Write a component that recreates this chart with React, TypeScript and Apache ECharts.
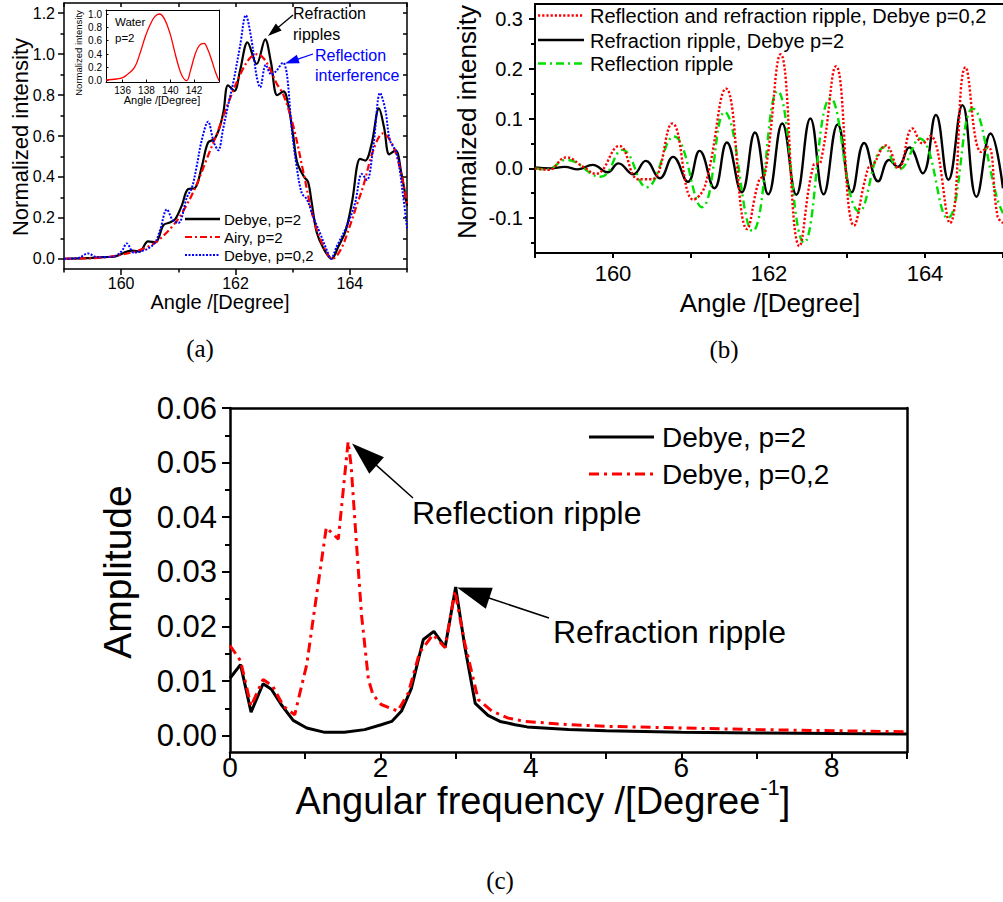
import { useEffect, useRef } from "react";
import * as echarts from "echarts";

const SANS = "'Liberation Sans', Arial, Helvetica, sans-serif";
const SERIF = "'Liberation Serif', 'Times New Roman', serif";

// ---------------- (a) Normalized intensity vs angle ----------------
const aDebyeP2: [number, number][] = [
  [159.0, 0.0], [159.4, 0.003], [159.7, 0.008], [159.9, 0.012], [160.1, 0.035], [160.2, 0.04],
  [160.32, 0.035], [160.47, 0.085], [160.6, 0.08], [160.74, 0.165], [160.86, 0.178], [160.95, 0.195],
  [161.06, 0.26], [161.17, 0.34], [161.29, 0.345], [161.41, 0.45], [161.52, 0.568], [161.63, 0.585],
  [161.72, 0.64], [161.79, 0.72], [161.87, 0.848], [161.98, 0.82], [162.08, 0.92], [162.21, 1.058],
  [162.37, 0.952], [162.52, 1.072], [162.62, 0.96], [162.73, 0.8], [162.84, 0.818], [162.93, 0.74],
  [163.01, 0.6], [163.08, 0.47], [163.2, 0.4], [163.27, 0.375], [163.33, 0.28], [163.42, 0.13],
  [163.54, 0.05], [163.68, 0.0], [163.8, 0.06], [163.93, 0.14], [164.04, 0.28], [164.18, 0.488],
  [164.27, 0.48], [164.38, 0.56], [164.51, 0.735], [164.6, 0.64], [164.69, 0.51], [164.8, 0.53],
  [164.9, 0.42], [165.0, 0.26],
];
const aAiryP2: [number, number][] = [
  [159.0, 0.0], [159.5, 0.003], [159.8, 0.01], [160.0, 0.02], [160.3, 0.04], [160.6, 0.08],
  [160.9, 0.16], [161.1, 0.24], [161.3, 0.35], [161.5, 0.49], [161.7, 0.63], [161.9, 0.78],
  [162.1, 0.91], [162.25, 0.98], [162.38, 1.0], [162.49, 0.98], [162.6, 0.93], [162.72, 0.857],
  [162.84, 0.8], [163.01, 0.65], [163.19, 0.42], [163.36, 0.2], [163.54, 0.06], [163.7, 0.0],
  [163.85, 0.05], [164.0, 0.16], [164.12, 0.26], [164.24, 0.36], [164.41, 0.53], [164.58, 0.613],
  [164.76, 0.55], [164.91, 0.4], [165.0, 0.27],
];
const aDebyeP02: [number, number][] = [
  [159.0, 0.0], [159.25, 0.004], [159.42, 0.026], [159.58, 0.008], [159.85, 0.01], [160.0, 0.034],
  [160.1, 0.075], [160.22, 0.03], [160.33, 0.035], [160.47, 0.05], [160.59, 0.078], [160.68, 0.14],
  [160.8, 0.241], [160.9, 0.19], [161.0, 0.175], [161.15, 0.3], [161.24, 0.35], [161.32, 0.45],
  [161.41, 0.58], [161.52, 0.67], [161.62, 0.57], [161.7, 0.53], [161.78, 0.63], [161.87, 0.75],
  [161.96, 0.86], [162.08, 1.04], [162.18, 1.19], [162.28, 1.07], [162.37, 0.89], [162.43, 0.838],
  [162.53, 0.947], [162.63, 0.9], [162.72, 0.92], [162.83, 0.958], [162.9, 0.9], [162.98, 0.645],
  [163.07, 0.45], [163.16, 0.32], [163.25, 0.29], [163.36, 0.205], [163.48, 0.124], [163.6, 0.04],
  [163.67, 0.0], [163.77, 0.06], [163.94, 0.156], [164.09, 0.27], [164.21, 0.414], [164.3, 0.385],
  [164.41, 0.548], [164.53, 0.81], [164.62, 0.73], [164.7, 0.58], [164.82, 0.515], [164.94, 0.29],
  [165.0, 0.15],
];
// inset: water, p=2
const insetWater: [number, number][] = [
  [134.6, 0.01], [135.5, 0.025], [136.0, 0.045], [136.34, 0.085], [137.0, 0.2], [137.46, 0.41],
  [137.9, 0.66], [138.3, 0.835], [138.7, 0.96], [139.1, 1.0], [139.5, 0.93], [139.98, 0.71],
  [140.35, 0.45], [140.67, 0.235], [141.0, 0.07], [141.38, 0.0], [141.7, 0.15], [142.08, 0.39],
  [142.45, 0.53], [142.84, 0.56], [143.15, 0.47], [143.48, 0.31], [143.8, 0.13], [144.1, 0.0],
];

// ---------------- (b) ripples ----------------
const bReflRefr: [number, number][] = [
  [159.0, 0.0], [159.17, -0.003], [159.4, 0.022], [159.62, 0.003], [159.78, -0.011], [160.08, 0.045],
  [160.33, -0.022], [160.5, -0.022], [160.76, 0.09], [161.03, -0.063], [161.18, -0.035], [161.45, 0.16],
  [161.72, -0.122], [161.87, -0.025], [161.95, -0.01], [162.15, 0.229], [162.39, -0.156], [162.57, 0.006],
  [162.66, 0.012], [162.86, 0.205], [163.09, -0.115], [163.27, 0.0], [163.33, 0.006], [163.5, 0.046],
  [163.66, 0.0], [163.84, 0.08], [163.97, 0.05], [164.07, 0.065], [164.32, -0.11], [164.52, 0.203],
  [164.72, 0.033], [164.81, 0.043], [164.93, -0.096], [165.0, -0.11],
];
const bRefr: [number, number][] = [
  [159.0, 0.002], [159.2, 0.0], [159.38, 0.003], [159.55, -0.002], [159.74, 0.007], [159.93, -0.008],
  [160.07, 0.01], [160.26, -0.012], [160.42, 0.015], [160.6, -0.02], [160.77, 0.023], [160.96, -0.027],
  [161.11, 0.035], [161.3, -0.04], [161.46, 0.052], [161.65, -0.048], [161.82, 0.072], [161.99, -0.052],
  [162.17, 0.09], [162.35, -0.053], [162.53, 0.1], [162.7, -0.052], [162.88, 0.088], [163.06, -0.048],
  [163.22, 0.051], [163.4, -0.026], [163.54, 0.017], [163.65, 0.003], [163.8, 0.042], [163.97, -0.01],
  [164.14, 0.107], [164.3, -0.023], [164.48, 0.127], [164.66, -0.057], [164.84, 0.07], [165.0, -0.04],
];
const bRefl: [number, number][] = [
  [159.0, 0.0], [159.15, -0.002], [159.4, 0.017], [159.84, -0.017], [160.12, 0.037], [160.43, -0.038],
  [160.78, 0.064], [161.14, -0.078], [161.43, 0.113], [161.79, -0.126], [162.11, 0.155], [162.45, -0.149],
  [162.79, 0.141], [163.16, -0.087], [163.48, 0.043], [163.67, -0.002], [163.93, 0.06], [164.29, -0.1],
  [164.61, 0.12], [164.93, -0.063], [165.0, -0.09],
];

// ---------------- (c) amplitude spectrum ----------------
const cDebyeP2: [number, number][] = [
  [0.0, 0.0105], [0.14, 0.013], [0.28, 0.0043], [0.44, 0.0095], [0.55, 0.0085], [0.68, 0.0057],
  [0.84, 0.0028], [1.02, 0.0014], [1.26, 0.0006], [1.52, 0.0006], [1.79, 0.0011], [2.01, 0.002],
  [2.15, 0.0026], [2.28, 0.0045], [2.41, 0.0086], [2.57, 0.0176], [2.71, 0.0191], [2.86, 0.0162],
  [3.0, 0.0272], [3.12, 0.0164], [3.26, 0.0059], [3.43, 0.0037], [3.59, 0.0026], [3.79, 0.002],
  [3.95, 0.0016], [4.5, 0.0011], [5.0, 0.0009], [6.0, 0.0006], [7.0, 0.0005], [8.0, 0.0004], [9.0, 0.0003],
];
const cDebyeP02: [number, number][] = [
  [0.0, 0.0165], [0.14, 0.0137], [0.28, 0.0054], [0.44, 0.0103], [0.57, 0.009], [0.71, 0.0054],
  [0.86, 0.0038], [1.02, 0.013], [1.13, 0.0237], [1.28, 0.0381], [1.44, 0.036], [1.57, 0.0538],
  [1.61, 0.0495], [1.68, 0.0354], [1.75, 0.0219], [1.84, 0.0103], [1.9, 0.0075], [2.01, 0.0057],
  [2.23, 0.0045], [2.37, 0.0078], [2.52, 0.0152], [2.7, 0.0185], [2.86, 0.0161], [2.99, 0.0265],
  [3.12, 0.017], [3.3, 0.0066], [3.48, 0.0045], [3.7, 0.0032], [3.92, 0.0026], [4.5, 0.002],
  [5.0, 0.0017], [6.0, 0.0014], [7.0, 0.0011], [8.0, 0.0009], [9.0, 0.0007],
];

// ---------------- tick values ----------------
const aXMajor = [160, 162, 164];
const aXMinor = [159, 161, 163, 165];
const aXAll = [159, 160, 161, 162, 163, 164, 165];
const aYMajor = [0, 0.2, 0.4, 0.6, 0.8, 1.0, 1.2];
const aYMinor = [0.1, 0.3, 0.5, 0.7, 0.9, 1.1];
const aYAll = [0, 0.1, 0.2, 0.3, 0.4, 0.5, 0.6, 0.7, 0.8, 0.9, 1.0, 1.1, 1.2];
const insetXMajor = [136, 138, 140, 142];
const insetYMajor = [0, 0.2, 0.4, 0.6, 0.8, 1.0];
const bXMajor = [160, 162, 164];
const bXAll = [159, 160, 161, 162, 163, 164, 165];
const bYMajor = [-0.1, 0, 0.1, 0.2, 0.3];
const bYMinor = [-0.15, -0.05, 0.05, 0.15, 0.25];
const cXMajor = [0, 2, 4, 6, 8];
const cXAll = [0, 1, 2, 3, 4, 5, 6, 7, 8, 9];
const cYMajor = [0, 0.01, 0.02, 0.03, 0.04, 0.05, 0.06];
const cYMinor = [0.005, 0.015, 0.025, 0.035, 0.045, 0.055];

type AxisSpec = {
  grid: number; pos: string; min: number; max: number; line?: number;
  ticks?: number[]; tickLen?: number; inside?: boolean; tickW?: number;
  labels?: number[]; fmt?: (v: number) => string; fs?: number; margin?: number;
};
function mkAxis(s: AxisSpec) {
  return {
    type: "value",
    gridIndex: s.grid,
    position: s.pos,
    min: s.min,
    max: s.max,
    splitLine: { show: false },
    axisLine: { show: !!s.line, onZero: false, lineStyle: { color: "#000", width: s.line || 1 } },
    axisTick: s.ticks
      ? { show: true, inside: !!s.inside, length: s.tickLen ?? 5, customValues: s.ticks,
          lineStyle: { color: "#000", width: s.tickW ?? 1.5 } }
      : { show: false },
    axisLabel: s.labels
      ? { show: true, customValues: s.labels, formatter: s.fmt, fontSize: s.fs, fontFamily: SANS,
          color: "#000", margin: s.margin }
      : { show: false },
  };
}

const f0 = (v: number) => String(Math.round(v));
const f1 = (v: number) => v.toFixed(1);
const f2 = (v: number) => v.toFixed(2);

function txt(x: number, y: number, text: string, fontSize: number, opts: any = {}) {
  return {
    type: "text",
    x, y,
    rotation: opts.rotation || 0,
    z: 100,
    style: {
      text,
      fontSize,
      fontFamily: opts.family || SANS,
      fill: opts.color || "#000",
      align: opts.align || "left",
      textAlign: opts.align || "left",
      verticalAlign: "middle",
      textVerticalAlign: "middle",
      rich: opts.rich,
    },
  };
}
function seg(x1: number, y1: number, x2: number, y2: number, color: string, w: number, dash?: number[]) {
  return {
    type: "line", z: 100,
    shape: { x1, y1, x2, y2 },
    style: { stroke: color, lineWidth: w, lineDash: dash || null },
  };
}
function arrow(tail: number[], tip: number[], headLen: number, headW: number, color: string, lw: number) {
  const dx = tip[0] - tail[0], dy = tip[1] - tail[1];
  const L = Math.hypot(dx, dy);
  const ux = dx / L, uy = dy / L;
  const bx = tip[0] - ux * headLen, by = tip[1] - uy * headLen;
  const nx = -uy, ny = ux;
  return [
    seg(tail[0], tail[1], bx + ux * 2, by + uy * 2, color, lw),
    {
      type: "polygon", z: 100,
      shape: { points: [[tip[0], tip[1]], [bx + nx * headW / 2, by + ny * headW / 2], [bx - nx * headW / 2, by - ny * headW / 2]] },
      style: { fill: color },
    },
  ];
}

const DASHDOT_A = [7, 3, 2, 3];
const DOT_A = [2, 1.5];
const GREEN = "#00e000";

function buildOption() {
  const xAxis = [
    mkAxis({ grid: 0, pos: "bottom", min: 159, max: 165, line: 1.5, ticks: aXMajor, tickLen: 6, labels: aXMajor, fmt: f0, fs: 16, margin: 6 }),
    mkAxis({ grid: 0, pos: "bottom", min: 159, max: 165, ticks: aXMinor, tickLen: 3.5 }),
    mkAxis({ grid: 0, pos: "top", min: 159, max: 165, line: 1.5, ticks: aXAll, tickLen: 4, inside: true }),
    mkAxis({ grid: 1, pos: "bottom", min: 134.6, max: 144.1, line: 1, ticks: insetXMajor, tickLen: 2.5, inside: true, tickW: 1, labels: insetXMajor, fmt: f0, fs: 10, margin: 3 }),
    mkAxis({ grid: 1, pos: "top", min: 134.6, max: 144.1, line: 1 }),
    mkAxis({ grid: 2, pos: "bottom", min: 159, max: 165, line: 2, ticks: bXAll, tickLen: 5, tickW: 2, labels: bXMajor, fmt: f0, fs: 22, margin: 9 }),
    mkAxis({ grid: 2, pos: "top", min: 159, max: 165, line: 2 }),
    mkAxis({ grid: 3, pos: "bottom", min: 0, max: 9, line: 2.5, ticks: cXAll, tickLen: 7, tickW: 2, labels: cXMajor, fmt: f0, fs: 28, margin: 1 }),
    mkAxis({ grid: 3, pos: "top", min: 0, max: 9, line: 2.5 }),
  ];
  const yAxis = [
    mkAxis({ grid: 0, pos: "left", min: -0.05, max: 1.25, line: 1.5, ticks: aYMajor, tickLen: 6, labels: aYMajor, fmt: f1, fs: 16, margin: 9 }),
    mkAxis({ grid: 0, pos: "left", min: -0.05, max: 1.25, ticks: aYMinor, tickLen: 3.5 }),
    mkAxis({ grid: 0, pos: "right", min: -0.05, max: 1.25, line: 1.5, ticks: aYAll, tickLen: 4, inside: true }),
    mkAxis({ grid: 1, pos: "left", min: -0.02, max: 1.06, line: 1, ticks: insetYMajor, tickLen: 2.5, inside: true, tickW: 1, labels: insetYMajor, fmt: f1, fs: 10, margin: 4 }),
    mkAxis({ grid: 1, pos: "right", min: -0.02, max: 1.06, line: 1 }),
    mkAxis({ grid: 2, pos: "left", min: -0.17, max: 0.33, line: 2, ticks: bYMajor, tickLen: 6, tickW: 2, labels: bYMajor, fmt: f1, fs: 20, margin: 12 }),
    mkAxis({ grid: 2, pos: "left", min: -0.17, max: 0.33, ticks: bYMinor, tickLen: 4, tickW: 2 }),
    mkAxis({ grid: 3, pos: "left", min: -0.003, max: 0.06, line: 2.5, ticks: cYMajor, tickLen: 8, tickW: 2, labels: cYMajor, fmt: f2, fs: 31, margin: 13 }),
    mkAxis({ grid: 3, pos: "left", min: -0.003, max: 0.06, ticks: cYMinor, tickLen: 5, tickW: 2 }),
    mkAxis({ grid: 3, pos: "right", min: -0.003, max: 0.06, line: 2.5 }),
  ];

  const line = (name: string, data: [number, number][], xi: number, yi: number, color: string, width: number, type: any, smooth: any, z = 3) => ({
    name, type: "line", data, xAxisIndex: xi, yAxisIndex: yi, symbol: "none", showSymbol: false,
    smooth, z, lineStyle: { color, width, type }, clip: true,
  });

  const series = [
    line("Debye, p=2", aDebyeP2, 0, 0, "#000", 2.2, "solid", 0.35, 3),
    line("Airy, p=2", aAiryP2, 0, 0, "#ff0000", 2.2, DASHDOT_A, 0.35, 4),
    line("Debye, p=0,2", aDebyeP02, 0, 0, "#0000ff", 2, DOT_A, 0.35, 5),
    line("Water p=2", insetWater, 3, 3, "#ff0000", 1.3, "solid", 0.4, 3),
    line("Refraction ripple, Debye p=2", bRefr, 5, 5, "#000", 2.4, "solid", 0.45, 3),
    line("Reflection ripple", bRefl, 5, 5, GREEN, 2.4, [8, 4, 2, 4], 0.45, 4),
    line("Reflection and refraction ripple, Debye p=0,2", bReflRefr, 5, 5, "#ff0000", 2.4, [2.2, 2], 0.45, 5),
    line("Debye, p=2 (c)", cDebyeP2, 7, 7, "#000", 3, "solid", false, 3),
    line("Debye, p=0,2 (c)", cDebyeP02, 7, 7, "#ff0000", 3, [10, 5, 3, 5], false, 4),
  ];

  const graphic: any[] = [
    // (a) titles
    txt(20, 137, "Normalized intensity", 22, { rotation: Math.PI / 2, align: "center" }),
    txt(220, 302, "Angle /[Degree]", 20, { align: "center" }),
    txt(200, 348, "(a)", 25, { align: "center", family: SERIF }),
    // inset titles
    txt(78, 53, "Normalized intensity", 9.5, { rotation: Math.PI / 2, align: "center" }),
    txt(162, 100, "Angle /[Degree]", 11, { align: "center" }),
    txt(115, 22, "Water", 11.5),
    txt(115, 38, "p=2", 11.5),
    // (a) legend
    seg(185, 219, 220, 219, "#000", 2.4),
    txt(224, 219, "Debye, p=2", 15),
    seg(185, 237, 220, 237, "#ff0000", 2.2, DASHDOT_A),
    txt(224, 237, "Airy, p=2", 15),
    seg(185, 255, 220, 255, "#0000ff", 2, DOT_A),
    txt(224, 255, "Debye, p=0,2", 15),
    // (a) annotations
    txt(293, 13, "Refraction", 16),
    txt(293, 34, "ripples", 16),
    ...arrow([293, 15], [268, 36], 14, 9, "#000", 1.3),
    txt(315, 55, "Reflection", 16, { color: "#0000ff" }),
    txt(315, 75, "interference", 16, { color: "#0000ff" }),
    ...arrow([313, 54], [285, 63.5], 14, 9, "#0000ff", 1.3),
    // (b)
    txt(467, 122, "Normalized intensity", 26, { rotation: Math.PI / 2, align: "center" }),
    txt(770, 303, "Angle /[Degree]", 26, { align: "center" }),
    txt(724, 349, "(b)", 25, { align: "center", family: SERIF }),
    seg(538, 15.5, 584, 15.5, "#ff0000", 2.4, [2.2, 2]),
    txt(590, 16, "Reflection and refraction ripple, Debye p=0,2", 20),
    seg(538, 40, 584, 40, "#000", 2.4),
    txt(590, 40.5, "Refraction ripple, Debye p=2", 20),
    seg(538, 63.5, 584, 63.5, GREEN, 2.4, [8, 4, 2, 4]),
    txt(590, 64, "Reflection ripple", 20),
    // (c)
    txt(117, 572, "Amplitude", 39, { rotation: Math.PI / 2, align: "center" }),
    txt(543, 797, "{n|Angular frequency /[Degree}{s|-1}{n|]}", 38, {
      align: "center",
      rich: {
        n: { fontSize: 38, fontFamily: SANS, lineHeight: 46, verticalAlign: "bottom" },
        s: { fontSize: 22, fontFamily: SANS, lineHeight: 46, verticalAlign: "top", padding: [2, 0, 0, 0] },
      },
    }),
    txt(500, 880, "(c)", 25, { align: "center", family: SERIF }),
    seg(589, 437, 654, 437, "#000", 3),
    txt(662, 437, "Debye, p=2", 28),
    seg(589, 474, 654, 474, "#ff0000", 3, [10, 5, 3, 5]),
    txt(662, 474, "Debye, p=0,2", 28),
    txt(412, 513, "Reflection ripple", 32),
    ...arrow([413, 498], [352, 443.5], 33, 22, "#000", 1.5),
    txt(553, 632, "Refraction ripple", 32),
    ...arrow([549, 618], [457, 587.5], 34, 22, "#000", 1.5),
  ];

  return {
    animation: false,
    backgroundColor: "#ffffff",
    textStyle: { fontFamily: SANS },
    grid: [
      { left: 64, top: 3, width: 343, height: 266, containLabel: false },
      { left: 106, top: 10, width: 113, height: 72, containLabel: false },
      { left: 535, top: 4, width: 471, height: 249, containLabel: false },
      { left: 230, top: 408, width: 677, height: 344, containLabel: false },
    ],
    xAxis,
    yAxis,
    series,
    graphic,
  };
}

export default function App() {
  const ref = useRef<HTMLDivElement>(null);
  useEffect(() => {
    if (!ref.current) return;
    const chart = echarts.init(ref.current, null, { renderer: "svg" });
    chart.setOption(buildOption() as any);
    return () => chart.dispose();
  }, []);
  return (
    <div
      ref={ref}
      style={{ position: "absolute", left: 0, top: 0, width: 1003, height: 902, background: "#fff", overflow: "hidden" }}
    />
  );
}
